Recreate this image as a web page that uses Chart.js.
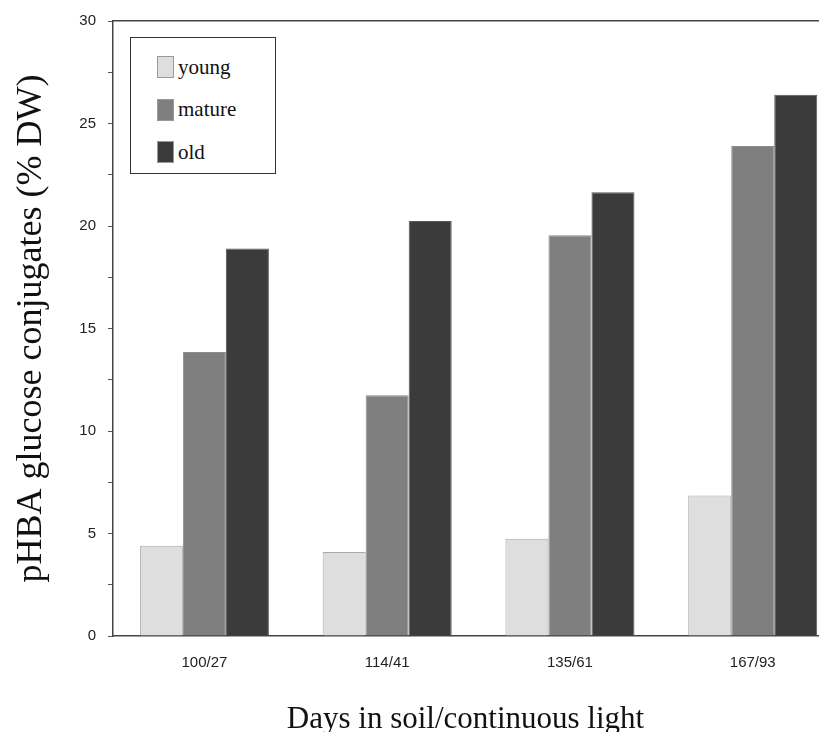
<!DOCTYPE html>
<html>
<head>
<meta charset="utf-8">
<script src="https://cdn.jsdelivr.net/npm/chart.js@4"></script>
<style>
  body { margin: 0; background: #fff; }
  #wrap { position: relative; width: 836px; height: 732px; }
  #legend {
    position: absolute; left: 130px; top: 37px; width: 146px; height: 137px;
    box-sizing: border-box; border: 1.5px solid #333; background: #fff;
    font-family: "Liberation Serif", "Times New Roman", serif; font-size: 21px; color: #111;
  }
  .leg-item { position: absolute; left: 26px; height: 22px; display: flex; align-items: center; }
  .leg-swatch { width: 17px; height: 22px; box-sizing: border-box; border: 1px solid #999; margin-right: 4px; }
</style>
</head>
<body>
<div id="wrap">
  <canvas id="chart" width="836" height="732"></canvas>
  <div id="legend"></div>
</div>
<script>
// categories and values
const categories = ['100/27', '114/41', '135/61', '167/93'];
const youngValues = [4.4, 4.1, 4.75, 6.85];
const matureValues = [13.85, 11.75, 19.55, 23.9];
const oldValues = [18.9, 20.25, 21.65, 26.4];
const yTicks = [0, 5, 10, 15, 20, 25, 30];

const toPoints = arr => arr.map((v, i) => ({ x: i, y: v }));

const tickFont = { family: '"Liberation Sans", Arial, sans-serif', size: 15 };
const serif = '"Liberation Serif", "Times New Roman", serif';

const chart = new Chart(document.getElementById('chart'), {
    type: 'bar',
    data: {
        datasets: [
            { label: 'young', data: toPoints(youngValues), backgroundColor: '#dedede', borderColor: '#a8a8a8', borderWidth: 1 },
            { label: 'mature', data: toPoints(matureValues), backgroundColor: '#7f7f7f', borderColor: '#8c8c8c', borderWidth: 1 },
            { label: 'old', data: toPoints(oldValues), backgroundColor: '#3b3b3b', borderColor: '#5a5a5a', borderWidth: 1 }
        ]
    },
    options: {
        responsive: false,
        devicePixelRatio: 1,
        animation: false,
        categoryPercentage: 0.706,
        barPercentage: 1,
        layout: { padding: { top: 20, right: 18, left: 0, bottom: 0 } },
        plugins: { legend: { display: false }, tooltip: { enabled: false } },
        scales: {
            x: {
                type: 'linear',
                offset: false,
                min: -0.5,
                max: 3.357,
                afterFit: s => { s.height = 96; },
                afterBuildTicks: s => { s.ticks = categories.map((_, i) => ({ value: i })); },
                grid: { display: false, drawTicks: false },
                border: { display: true, color: '#444', width: 1.5 },
                ticks: {
                    padding: 18,
                    color: '#222',
                    font: tickFont,
                    maxRotation: 0,
                    autoSkip: false,
                    callback: v => categories[v]
                },
                title: {
                    display: true,
                    text: 'Days in soil/continuous light',
                    color: '#111',
                    font: { family: serif, size: 31, lineHeight: 0.8 },
                    padding: { top: 0, bottom: 0 }
                }
            },
            xTop: {
                type: 'linear',
                position: 'top',
                offset: false,
                min: -0.5,
                max: 3.357,
                afterFit: s => { s.height = 0; },
                grid: { display: false, drawTicks: false },
                border: { display: true, color: '#444', width: 1.5 },
                ticks: { display: false }
            },
            y: {
                min: 0,
                max: 30,
                afterFit: s => { s.width = 113; },
                grid: { display: true, drawOnChartArea: false, drawTicks: true, tickLength: 5, color: '#555' },
                border: { display: true, color: '#444', width: 1.5 },
                ticks: {
                    stepSize: 2.5,
                    autoSkip: false,
                    padding: 12,
                    color: '#222',
                    font: tickFont,
                    callback: v => yTicks.includes(v) ? v : ''
                },
                title: {
                    display: true,
                    text: 'pHBA glucose conjugates (% DW)',
                    color: '#111',
                    font: { family: serif, size: 36, lineHeight: 0.8 },
                    padding: { top: 17, bottom: 0 }
                }
            }
        }
    }
});

// legend box, built from the chart's datasets
const legendEl = document.getElementById('legend');
chart.data.datasets.forEach((ds, i) => {
    const item = document.createElement('div');
    item.className = 'leg-item';
    item.style.top = (18 + i * 42.5) + 'px';
    item.innerHTML = `<span class="leg-swatch" style="background:${ds.backgroundColor}"></span><span>${ds.label}</span>`;
    legendEl.appendChild(item);
});
</script>
</body>
</html>
